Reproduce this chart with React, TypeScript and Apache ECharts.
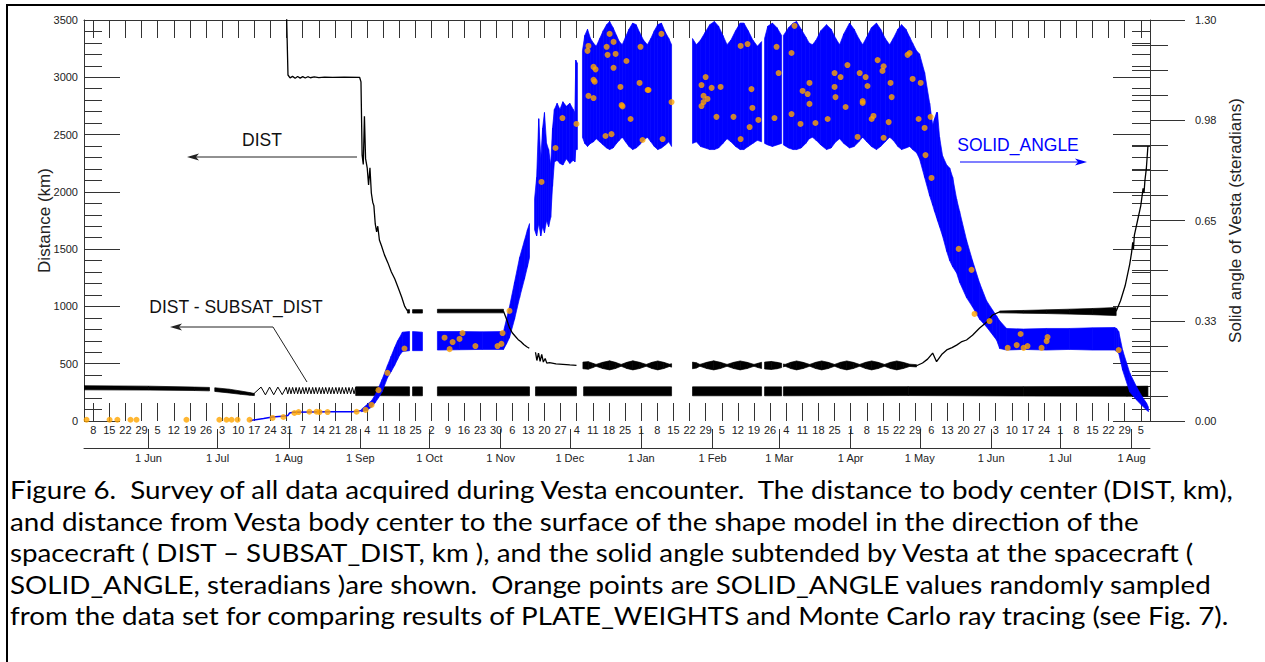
import React, { useEffect, useRef } from "react";
import * as echarts from "echarts";

// ---------- data (x = days after 1 Jun 2011, UTC) ----------
const BASE = Date.UTC(2011, 5, 1);
const dayOf = (s: string) => (Date.parse(s + "T00:00:00Z") - BASE) / 864e5;

const X_MIN = -28; // 4 May 2011
const X_MAX = 435; // 9 Aug 2012

const monthTicks: [string, string][] = [
  ["2011-06-01", "1 Jun"], ["2011-07-01", "1 Jul"], ["2011-08-01", "1 Aug"], ["2011-09-01", "1 Sep"],
  ["2011-10-01", "1 Oct"], ["2011-11-01", "1 Nov"], ["2011-12-01", "1 Dec"], ["2012-01-01", "1 Jan"],
  ["2012-02-01", "1 Feb"], ["2012-03-01", "1 Mar"], ["2012-04-01", "1 Apr"], ["2012-05-01", "1 May"],
  ["2012-06-01", "1 Jun"], ["2012-07-01", "1 Jul"], ["2012-08-01", "1 Aug"],
];
const firstSunday = "2011-05-08";
const lastSunday = "2012-08-05";
const rightTickLabels = ["0.00", "0.33", "0.65", "0.98", "1.30"];

type P2 = [number, number] | null;
type P3 = [number, number, number] | null;

// DIST (km) thin parts
const distLine: P2[] = [
  [59.8, 3700], [60.6, 3020], [61.5, 2995], [62.6, 3008], [63.7, 2992], [64.8, 3007], [65.9, 2993],
  [67.0, 3006], [68.1, 2994], [69.2, 3005], [70.3, 2996], [72.0, 3003], [74.0, 2997], [76.5, 3002],
  [80, 2999], [85, 3001], [91.7, 3000],
  [92.3, 2960], [92.8, 2320], [93.3, 2240], [93.8, 2660], [94.3, 2290], [95.0, 2210], [95.6, 2060],
  [96.2, 2210], [96.8, 1990], [97.4, 1910], [97.9, 1880], [98.5, 1720], [99.1, 1650], [99.6, 1700],
  [100.3, 1580], [101.2, 1530], [102.5, 1450], [104.0, 1380], [105.5, 1300], [107.0, 1240],
  [108.5, 1160], [110.0, 1080], [111.3, 1000], [112.5, 960],
  null,
  [154.2, 958], [155.5, 890], [156.8, 815], [158.0, 770], [159.3, 740], [160.5, 712], [161.8, 692],
  [163.0, 668], [164.3, 648], [165.4, 635],
  null,
  [168.1, 600], [168.7, 528], [169.4, 592], [170.1, 520], [170.8, 582], [171.5, 515], [172.3, 545],
  [173.0, 505], [174.2, 510], [177.0, 498], [180.0, 495], [183.0, 489], [185.9, 486],
  null,
  [333.6, 482], [336.2, 506], [338.4, 540], [340.6, 593], [342.3, 518], [344.5, 580], [346.7, 620],
  [349.0, 640], [351.0, 662], [353.0, 690], [355.3, 707], [357.9, 748], [361.0, 812], [364.0, 862],
  [366.6, 925], [369.7, 952],
  null,
  [420.3, 958], [422.2, 1050], [424.2, 1180], [426.2, 1370], [427.0, 1470], [427.5, 1560],
  [427.8, 1500], [428.2, 1620], [429.6, 1750], [431.0, 1880], [432.0, 2030], [432.4, 1990],
  [432.8, 2100], [433.4, 2200], [434.1, 2400],
];

// DIST (km) thick parts: [day, low, high]
const distFlat: P3[] = [
  [112.5, 942, 972], [113.4, 942, 972], null, [114.7, 942, 972], [119.0, 942, 972], null,
  [125.5, 944, 975], [154.2, 944, 975],
];
const distLobes: P3[] = [
  [188.7, 456, 514], [191.0, 452, 518], [193.0, 466, 504], [194.4, 478, 494], [197.3, 458, 512],
  [200.3, 446, 525], [202.8, 458, 512], [205.3, 478, 494], [207.8, 458, 512], [210.4, 446, 525],
  [213.3, 458, 512], [216.2, 478, 494], [218.7, 458, 512], [221.2, 446, 524], [223.8, 458, 512],
  [226.3, 476, 496], [227.2, 470, 500], null,
  [236.3, 456, 514], [238.0, 462, 508], [239.5, 478, 494], [242.5, 458, 512], [245.5, 446, 525],
  [248.4, 458, 512], [251.3, 478, 494], [254.2, 458, 512], [257.0, 446, 524], [260.0, 458, 512],
  [263.0, 478, 494], [264.8, 466, 504], [266.3, 458, 512], null,
  [267.6, 454, 514], [270.5, 450, 520], [273.0, 456, 512], [275.0, 466, 504], null,
  [275.8, 472, 498], [276.5, 478, 494], [279.0, 458, 512], [281.5, 446, 524], [284.3, 458, 512],
  [287.2, 478, 494], [289.8, 458, 512], [292.4, 446, 524], [295.2, 458, 512], [298.0, 478, 494],
  [300.6, 458, 512], [303.3, 446, 524], [306.1, 458, 512], [308.9, 478, 494], [311.5, 458, 512],
  [314.1, 446, 524], [316.9, 458, 512], [319.7, 478, 494], [322.3, 458, 512], [325.0, 446, 524],
  [327.8, 458, 512], [330.6, 476, 496], [333.6, 472, 492],
];
const distWedge: P3[] = [
  [369.7, 944, 960], [380, 941, 965], [390, 938, 970], [400, 933, 976], [410, 928, 982], [420.3, 920, 990],
];

// DIST - SUBSAT_DIST (km)
const subsatEarly: P3[] = [
  [-28.2, 272, 308], [0, 270, 304], [20, 266, 296], [26.5, 263, 293], null,
  [28.8, 258, 290], [35, 245, 278], [40, 233, 262], [44, 225, 248], [46, 222, 240],
];
const subsatZigzag: P2[] = [
  [45.2, 228], [48.9, 296], [50.8, 228], [52.6, 296], [54.4, 229], [56.2, 296], [58.1, 230], [59.8, 295],
  [60.5, 237], [61.2, 293], [61.9, 237], [62.6, 293], [63.4, 237], [64.1, 293], [64.8, 237], [65.5, 293],
  [66.2, 237], [67.0, 293], [67.7, 237], [68.4, 293], [69.1, 237], [69.8, 293], [70.6, 237], [71.3, 293],
  [72.0, 237], [72.7, 293], [73.4, 237], [74.2, 293], [74.9, 237], [75.6, 293], [76.3, 237], [77.0, 293],
  [77.8, 237], [78.5, 293], [79.2, 237], [79.9, 293], [80.6, 237], [81.4, 293], [82.1, 237], [82.8, 293],
  [83.5, 237], [84.2, 293], [85.0, 237], [85.7, 293], [86.4, 237], [87.1, 293], [87.8, 237], [88.6, 293],
  [89.3, 237], [90.0, 293], [90.7, 237], [91.4, 293], [92.1, 237],
];
const subsatBand: P3[] = [
  [90.0, 222, 298], [113.4, 220, 298], null, [114.7, 220, 298], [119.0, 220, 298], null,
  [125.5, 220, 298], [165.5, 220, 298], null, [168.1, 220, 298], [185.9, 220, 298], null,
  [189.0, 220, 298], [227.2, 220, 298], null, [236.3, 220, 298], [266.3, 220, 298], null,
  [267.6, 220, 298], [275.0, 220, 298], null,
  [275.8, 220, 298], [330, 222, 300], [380, 218, 300], [425, 216, 302], [434.1, 214, 304],
];

// SOLID_ANGLE (steradians)
const solidEarly: P2[] = [
  [44, 0.0], [45.5, 0.003], [50, 0.008], [53.9, 0.013], [58.0, 0.015], [60.6, 0.018], [61.3, 0.026],
  [63.0, 0.028], [70.0, 0.029], [80.0, 0.030], [88.6, 0.030], [91.0, 0.032], [92.5, 0.034],
];
const solidBand: P3[] = [
  [92.5, 0.030, 0.038], [94.7, 0.034, 0.052], [96.9, 0.045, 0.066], [98.5, 0.06, 0.085],
  [99.9, 0.075, 0.108], [101.5, 0.095, 0.135], [103.8, 0.14, 0.18], [105.4, 0.16, 0.21],
  [106.9, 0.18, 0.238], [108.2, 0.20, 0.26], [109.0, 0.212, 0.27], [110.3, 0.225, 0.288],
  [113.4, 0.228, 0.29], null,
  [114.7, 0.228, 0.29], [119.0, 0.228, 0.288], null,
  [125.5, 0.23, 0.29], [135, 0.231, 0.29], [145, 0.232, 0.289], [154.2, 0.232, 0.29],
  [155.5, 0.25, 0.33], [156.8, 0.27, 0.37], [159.0, 0.33, 0.45], [161.2, 0.40, 0.53],
  [163.3, 0.46, 0.585], [164.6, 0.50, 0.62], [165.5, 0.53, 0.64], null,
  [167.7, 0.62, 0.72], [168.6, 0.60, 0.79], [169.5, 0.64, 0.98], [170.4, 0.60, 0.85],
  [171.2, 0.63, 0.95], [172.0, 0.61, 1.0], [172.9, 0.65, 0.90], [173.8, 0.63, 0.88],
  [174.7, 0.66, 0.83], [175.5, 0.76, 0.95], [176.3, 0.84, 1.01], [177.5, 0.845, 1.03],
  [178.7, 0.835, 1.01], [180.0, 0.83, 1.035], [181.5, 0.85, 1.02], [183.0, 0.835, 1.03],
  [184.5, 0.845, 1.01], [185.2, 0.84, 1.0], [185.6, 0.88, 1.17], [186.3, 0.88, 1.16], null,
  [188.5, 0.92, 1.20], [189.5, 0.90, 1.25], [190.7, 0.89, 1.27], [192.0, 0.90, 1.24],
  [193.3, 0.905, 1.225], [194.5, 0.915, 1.215], [196.0, 0.905, 1.24], [197.5, 0.895, 1.265],
  [199.0, 0.885, 1.285], [200.3, 0.88, 1.295], [201.8, 0.885, 1.275], [203.3, 0.90, 1.25],
  [204.5, 0.91, 1.23], [205.8, 0.92, 1.22], [207.2, 0.905, 1.245], [208.7, 0.89, 1.27],
  [210.3, 0.88, 1.29], [211.8, 0.885, 1.285], [213.3, 0.895, 1.26], [215.0, 0.91, 1.235],
  [216.7, 0.92, 1.22], [218.2, 0.905, 1.24], [219.7, 0.89, 1.265], [221.2, 0.88, 1.285],
  [222.8, 0.885, 1.29], [224.5, 0.895, 1.26], [226.0, 0.905, 1.24], [227.2, 0.89, 1.22], null,
  [236.3, 0.90, 1.24], [238.0, 0.905, 1.22], [239.8, 0.89, 1.235], [241.8, 0.885, 1.26],
  [243.8, 0.88, 1.285], [245.8, 0.88, 1.295], [247.6, 0.885, 1.28], [249.5, 0.90, 1.25],
  [251.3, 0.915, 1.22], [253.0, 0.905, 1.235], [255.0, 0.89, 1.265], [257.0, 0.88, 1.29],
  [258.6, 0.88, 1.29], [260.5, 0.89, 1.265], [262.5, 0.90, 1.235], [264.5, 0.91, 1.215],
  [266.3, 0.905, 1.23], null,
  [267.6, 0.90, 1.24], [269.0, 0.895, 1.28], [271.0, 0.89, 1.29], [273.0, 0.895, 1.275],
  [275.0, 0.90, 1.25], null,
  [275.8, 0.895, 1.25], [278.0, 0.885, 1.275], [280.0, 0.88, 1.29], [281.5, 0.88, 1.295],
  [283.5, 0.885, 1.27], [285.5, 0.90, 1.245], [287.0, 0.915, 1.225], [288.4, 0.92, 1.22],
  [290.0, 0.91, 1.235], [292.0, 0.895, 1.265], [294.5, 0.88, 1.285], [296.5, 0.885, 1.27],
  [298.5, 0.905, 1.24], [300.2, 0.915, 1.22], [302.0, 0.90, 1.255], [304.5, 0.885, 1.29],
  [306.5, 0.89, 1.27], [308.5, 0.905, 1.24], [310.2, 0.92, 1.22], [312.0, 0.905, 1.245],
  [314.0, 0.89, 1.275], [316.2, 0.88, 1.29], [318.0, 0.89, 1.27], [320.0, 0.905, 1.24],
  [321.9, 0.92, 1.22], [323.5, 0.91, 1.24], [325.5, 0.89, 1.27], [327.1, 0.88, 1.285],
  [329.0, 0.885, 1.27], [330.6, 0.89, 1.245], [331.9, 0.88, 1.225],
  [333.6, 0.87, 1.20], [334.9, 0.85, 1.19], [337.1, 0.79, 1.13], [339.3, 0.73, 1.03],
  [340.6, 0.70, 0.96], [341.4, 0.68, 0.98], [342.3, 0.66, 1.0], [342.7, 0.65, 1.0],
  [343.6, 0.63, 0.92], [344.9, 0.60, 0.86], [346.7, 0.55, 0.83], [348.0, 0.52, 0.82],
  [349.3, 0.50, 0.79], [351.0, 0.48, 0.72], [352.3, 0.45, 0.68], [355.3, 0.40, 0.587],
  [357.9, 0.37, 0.52], [361.0, 0.33, 0.447], [364.0, 0.305, 0.39], [366.6, 0.28, 0.36],
  [368.4, 0.262, 0.34], [369.7, 0.235, 0.325], [372.7, 0.23, 0.30], [380, 0.232, 0.298],
  [390, 0.23, 0.30], [400, 0.232, 0.30], [410, 0.23, 0.302], [419.6, 0.23, 0.303],
  [420.5, 0.225, 0.30], [421.4, 0.22, 0.29], [423.1, 0.165, 0.23], [426.2, 0.094, 0.156],
  [429.2, 0.068, 0.11], [431.5, 0.05, 0.08], [433.5, 0.036, 0.058], [434.3, 0.03, 0.045],
];

// Randomly sampled SOLID_ANGLE values (orange)
const orangeSamples: [number, number][] = [
  [-26.9, 0.004], [-16.9, 0.004], [-13.5, 0.004], [-7.8, 0.004], [-5.2, 0.004], [16.5, 0.004],
  [30.8, 0.004], [33.9, 0.004], [36.1, 0.004], [38.7, 0.004], [43.9, 0.004],
  [53.9, 0.01], [58.6, 0.013], [63.4, 0.026], [65.2, 0.029], [69.9, 0.03], [73.0, 0.03], [74.3, 0.029],
  [77.8, 0.029], [90.4, 0.03], [94.3, 0.036], [96.9, 0.052], [99.9, 0.10], [103.8, 0.156], [111.2, 0.235],
  [128.6, 0.27], [130.8, 0.233], [132.1, 0.256], [135.1, 0.266], [136.4, 0.285], [142.0, 0.243],
  [151.6, 0.243], [153.3, 0.25], [153.8, 0.285], [156.8, 0.357],
  [170.7, 0.775], [176.8, 0.885], [179.8, 0.982], [185.9, 0.963],
  [191.1, 1.216], [190.7, 1.2], [191.1, 1.054], [193.3, 1.148], [194.2, 1.14], [193.3, 1.106],
  [193.8, 1.10], [193.3, 1.047], [198.5, 0.924], [199.0, 1.213], [199.4, 1.187], [200.3, 1.255],
  [201.1, 0.93], [202.0, 1.229], [202.0, 1.145], [202.9, 1.19], [205.0, 1.083], [205.5, 1.024],
  [205.9, 1.02], [207.6, 1.167], [209.4, 0.979], [213.3, 1.096], [213.7, 1.213], [214.6, 0.911],
  [216.8, 1.073], [217.2, 1.073], [222.8, 1.255], [223.3, 0.914], [227.2, 1.034],
  [240.2, 1.089], [242.0, 1.115], [241.1, 1.054], [242.8, 1.044], [240.2, 1.021], [241.1, 1.034],
  [244.6, 1.08], [248.5, 1.083], [246.7, 0.986], [254.1, 0.986], [257.2, 1.216], [260.2, 1.222],
  [261.9, 1.076], [262.3, 1.015], [261.1, 0.953], [257.2, 0.914], [264.9, 0.976],
  [272.8, 1.213], [273.7, 1.128], [271.9, 0.982],
  [280.6, 1.281], [279.3, 1.193], [287.1, 1.096], [284.1, 1.07], [286.3, 1.06], [287.1, 1.028],
  [279.3, 0.995], [283.2, 0.963], [289.7, 0.966], [295.0, 0.979], [298.0, 1.128], [298.0, 1.083],
  [298.4, 1.05], [300.6, 1.115], [302.8, 1.018], [303.6, 1.154], [308.0, 0.921], [308.9, 1.128],
  [310.2, 1.031], [310.2, 1.037], [311.5, 1.115], [312.3, 1.086], [314.1, 0.979], [314.9, 0.989],
  [316.7, 1.17], [318.8, 1.135], [319.3, 1.15], [319.3, 0.918], [321.5, 0.969], [322.3, 1.096],
  [322.8, 1.05], [329.7, 1.187], [330.6, 1.193], [331.9, 1.109], [334.5, 0.979], [335.4, 1.096],
  [337.1, 0.95], [339.7, 0.986], [337.5, 0.862], [340.1, 0.788],
  [351.9, 0.558], [357.5, 0.49], [358.8, 0.347], [365.3, 0.324], [373.2, 0.237], [377.1, 0.246],
  [378.8, 0.282], [380.1, 0.237], [381.8, 0.243], [387.9, 0.237], [390.1, 0.259], [390.5, 0.272],
  [421.4, 0.23],
];

const captionLines = [
  "Figure 6.  Survey of all data acquired during Vesta encounter.  The distance to body center (DIST, km),",
  "and distance from Vesta body center to the surface of the shape model in the direction of the",
  "spacecraft ( DIST \u2013 SUBSAT_DIST, km ), and the solid angle subtended by Vesta at the spacecraft (",
  "SOLID_ANGLE, steradians )are shown.  Orange points are SOLID_ANGLE values randomly sampled",
  "from the data set for comparing results of PLATE_WEIGHTS and Monte Carlo ray tracing (see Fig. 7).",
];

// ---------- helpers ----------
const FONT = "'Liberation Sans', Arial, Helvetica, sans-serif";
const weekDays: number[] = [];
for (let d = dayOf(firstSunday); d <= dayOf(lastSunday) + 0.01; d += 7) weekDays.push(d);
const monthDays = monthTicks.map((t) => dayOf(t[0]));

const toLine = (pts: P2[]) => pts.map((p) => (p ? p : [NaN, NaN]));

function bandSeries(name: string, pts: P3[], color: string, yAxisIndex: number, z: number) {
  const segs: number[][] = [];
  for (let i = 0; i + 1 < pts.length; i++) {
    const a = pts[i];
    const b = pts[i + 1];
    if (!a || !b) continue;
    segs.push([a[0], a[1], a[2], b[0], b[1], b[2]]);
  }
  return {
    type: "custom",
    name,
    xAxisIndex: 0,
    yAxisIndex,
    z,
    clip: true,
    silent: true,
    data: segs,
    encode: { x: [0, 3], y: [1, 2, 4, 5] },
    renderItem: (_params: any, api: any) => {
      const p1 = api.coord([api.value(0), api.value(2)]);
      const p2 = api.coord([api.value(3), api.value(5)]);
      const p3 = api.coord([api.value(3), api.value(4)]);
      const p4 = api.coord([api.value(0), api.value(1)]);
      return {
        type: "polygon",
        shape: { points: [p1, p2, p3, p4] },
        style: { fill: color, stroke: color, lineWidth: 0.7 },
      };
    },
  };
}

const TICK = { color: "#333", width: 1 };
const LABEL = { fontFamily: FONT, fontSize: 11, color: "#222" };
const CAPTION_FONT = "25px Lato, 'Open Sans', sans-serif";

export default function App() {
  const ref = useRef<HTMLDivElement>(null);
  useEffect(() => {
    if (!ref.current) return;
    const chart = echarts.init(ref.current, null, { renderer: "svg" });
    const xBase = { type: "value", min: X_MIN, max: X_MAX, splitLine: { show: false } };
    const option: any = {
      animation: false,
      backgroundColor: "#fff",
      grid: { left: 84, top: 20, width: 1066, height: 401, show: false },
      xAxis: [
        {
          ...xBase,
          position: "bottom",
          axisLine: { show: false, onZero: false },
          axisTick: { show: true, inside: true, length: 18, customValues: weekDays, lineStyle: TICK },
          axisLabel: {
            ...LABEL,
            margin: 3,
            customValues: weekDays,
            formatter: (v: number) => String(new Date(BASE + Math.round(v) * 864e5).getUTCDate()),
          },
        },
        {
          ...xBase,
          position: "bottom",
          offset: 27,
          axisLine: { show: true, onZero: false, lineStyle: TICK },
          axisTick: { show: true, inside: true, length: 19, customValues: monthDays, lineStyle: TICK },
          axisLabel: {
            ...LABEL,
            margin: 4,
            customValues: monthDays,
            formatter: (v: number) => {
              const i = monthDays.findIndex((m) => Math.abs(m - v) < 0.5);
              return i >= 0 ? monthTicks[i][1] : "";
            },
          },
        },
        {
          ...xBase,
          position: "top",
          axisLine: { show: true, onZero: false, lineStyle: TICK },
          axisTick: { show: true, inside: true, length: 18, customValues: weekDays, lineStyle: TICK },
          axisLabel: { show: false },
        },
      ],
      yAxis: [
        {
          type: "value", min: 0, max: 3500, interval: 500, position: "left",
          axisLine: { show: true, onZero: false, lineStyle: TICK },
          axisTick: { show: true, inside: true, length: 36, lineStyle: TICK },
          minorTick: { show: true, splitNumber: 5, length: 18, lineStyle: TICK },
          axisLabel: { ...LABEL, margin: 6, formatter: (v: number) => String(v) },
          splitLine: { show: false },
          name: "Distance (km)", nameLocation: "middle", nameGap: 31, nameMoveOverlap: false,
          nameTextStyle: { fontFamily: FONT, fontSize: 17, color: "#222" },
        },
        {
          type: "value", min: 0, max: 1.3, interval: 0.325, position: "right",
          axisLine: { show: true, onZero: false, lineStyle: TICK },
          axisTick: { show: true, inside: false, length: 35, lineStyle: TICK },
          minorTick: { show: true, splitNumber: 4, length: 18, lineStyle: TICK },
          axisLabel: { ...LABEL, margin: 45, formatter: (v: number) => rightTickLabels[Math.round(v / 0.325)] },
          splitLine: { show: false },
          name: "Solid angle of Vesta (steradians)", nameLocation: "middle", nameGap: 77, nameMoveOverlap: false,
          nameTextStyle: { fontFamily: FONT, fontSize: 17, color: "#222" },
        },
        {
          type: "value", min: 0, max: 1.3, interval: 0.325, position: "right",
          axisLine: { show: false, onZero: false }, axisTick: { show: false, inside: true },
          minorTick: { show: true, splitNumber: 4, length: 18, lineStyle: TICK },
          axisLabel: { show: false }, splitLine: { show: false },
        },
        {
          type: "value", min: 0, max: 3500, interval: 500, position: "right",
          axisLine: { show: false, onZero: false },
          axisTick: { show: true, inside: true, length: 37, lineStyle: TICK },
          minorTick: { show: true, splitNumber: 5, length: 18, lineStyle: TICK },
          axisLabel: { show: false }, splitLine: { show: false },
        },
      ],
      series: [
        bandSeries("DIST - SUBSAT_DIST (early)", subsatEarly, "#000", 0, 2),
        {
          type: "line", name: "DIST - SUBSAT_DIST zigzag", data: toLine(subsatZigzag), xAxisIndex: 0, yAxisIndex: 0,
          showSymbol: false, symbol: "none", lineStyle: { color: "#000", width: 1 }, z: 2, silent: true,
        },
        bandSeries("DIST - SUBSAT_DIST", subsatBand, "#000", 0, 2),
        {
          type: "line", name: "SOLID_ANGLE (early)", data: toLine(solidEarly), xAxisIndex: 0, yAxisIndex: 1,
          showSymbol: false, symbol: "none", lineStyle: { color: "#0000ff", width: 1.5 }, z: 3, silent: true,
        },
        bandSeries("SOLID_ANGLE", solidBand, "#0000ff", 1, 3),
        {
          type: "line", name: "DIST", data: toLine(distLine), xAxisIndex: 0, yAxisIndex: 0,
          showSymbol: false, symbol: "none", lineStyle: { color: "#000", width: 1.3 }, z: 4, silent: true,
        },
        bandSeries("DIST flat", distFlat, "#000", 0, 4),
        bandSeries("DIST lobes", distLobes, "#000", 0, 4),
        bandSeries("DIST wedge", distWedge, "#000", 0, 4),
        {
          type: "scatter", name: "Sampled SOLID_ANGLE", data: orangeSamples, xAxisIndex: 0, yAxisIndex: 1,
          symbol: "circle", symbolSize: 6, itemStyle: { color: "#ffa500" }, z: 5, silent: true,
        },
      ],
      graphic: [
        { type: "rect", shape: { x: 7, y: 5, width: 1270, height: 670 }, style: { fill: "none", stroke: "#000", lineWidth: 2 }, silent: true },
        { type: "text", x: 262, y: 140, style: { text: "DIST", font: `17.5px ${FONT}`, fill: "#111", align: "center", verticalAlign: "middle" } },
        { type: "line", shape: { x1: 190, y1: 157, x2: 357, y2: 157 }, style: { stroke: "#222", lineWidth: 1 } },
        { type: "polygon", shape: { points: [[187, 157], [199, 153.5], [196, 157], [199, 160.5]] }, style: { fill: "#222" } },
        { type: "text", x: 236, y: 307, style: { text: "DIST - SUBSAT_DIST", font: `17.5px ${FONT}`, fill: "#111", align: "center", verticalAlign: "middle" } },
        { type: "polyline", shape: { points: [[307, 382], [273, 327], [173, 327]] }, style: { stroke: "#222", lineWidth: 1, fill: "none" } },
        { type: "polygon", shape: { points: [[170, 327], [182, 323.5], [179, 327], [182, 330.5]] }, style: { fill: "#222" } },
        { type: "text", x: 1018, y: 145, style: { text: "SOLID_ANGLE", font: `17.5px ${FONT}`, fill: "#0000ff", align: "center", verticalAlign: "middle" } },
        { type: "line", shape: { x1: 960, y1: 162, x2: 1084, y2: 162 }, style: { stroke: "#0000ff", lineWidth: 1.2 } },
        { type: "polygon", shape: { points: [[1087, 162], [1075, 158.5], [1078, 162], [1075, 165.5]] }, style: { fill: "#0000ff" } },
        ...captionLines.map((t, i) => ({
          type: "text",
          x: 10,
          y: 490 + i * 31.5,
          scaleX: 1.11,
          style: { text: t, font: CAPTION_FONT, fill: "#000", align: "left", verticalAlign: "middle" },
        })),
      ],
    };
    chart.setOption(option);
    return () => chart.dispose();
  }, []);
  return (
    <div
      ref={ref}
      style={{ position: "fixed", left: 0, top: 0, width: 1265, height: 662, background: "#fff" }}
    />
  );
}
